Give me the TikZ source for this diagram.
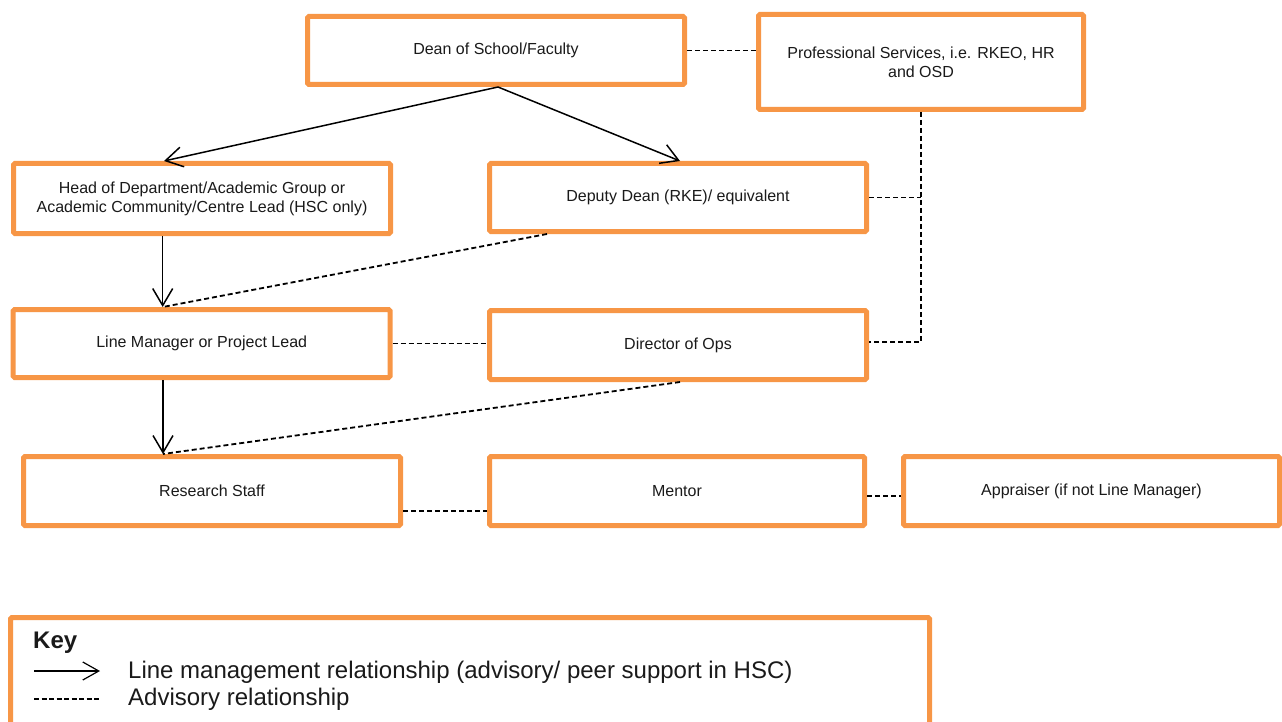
\documentclass[tikz,border=0pt]{standalone}
\usepackage{fontspec}
\setmainfont{Liberation Sans}
\usetikzlibrary{arrows.meta,calc}
\definecolor{boxorange}{HTML}{F79646}
\definecolor{txt}{HTML}{1A1A1A}
\begin{document}
\begin{tikzpicture}[x=1pt,y=-1pt,
  box/.style={draw=boxorange, line width=5pt, rounded corners=1.5pt, fill=white,
    align=center, text=txt, font=\fontsize{16}{19}\selectfont, inner sep=0pt},
  lmarrow/.style={draw=black, line width=1.5pt,
    -{Straight Barb[length=17pt,width=20pt,line width=1.5pt]}},
  adv/.style={draw=black, line width=1.8pt, dash pattern=on 5pt off 3pt},
  keytext/.style={anchor=west, text=txt, inner sep=0pt, font=\fontsize{24}{28}\selectfont},
]
\useasboundingbox (0,0) rectangle (1282,722);

% boxes
\node[box, minimum width=377pt, minimum height=68pt] (dean) at (496,50.5) {Dean of School/Faculty};
\node[box, minimum width=325pt, minimum height=95pt] (ps) at (921,62) {Professional Services, i.e. RKEO, HR\\and OSD};
\node[box, minimum width=377pt, minimum height=70pt] (head) at (202,198.5) {Head of Department/Academic Group or\\Academic Community/Centre Lead (HSC only)};
\node[box, minimum width=377pt, minimum height=68pt] (deputy) at (678,197.5) {Deputy Dean (RKE)/ equivalent};
\node[box, minimum width=377pt, minimum height=68pt] (lm) at (201.7,343.5) {Line Manager or Project Lead};
\node[box, minimum width=377pt, minimum height=69pt] (dir) at (678,345) {Director of Ops};
\node[box, minimum width=377pt, minimum height=69pt] (rs) at (212,491) {Research Staff};
\node[box, minimum width=375pt, minimum height=69pt] (mentor) at (677,491) {Mentor};
\node[box, minimum width=376pt, minimum height=69pt] (appr) at (1091.5,491) {Appraiser (if not Line Manager)};
\node[box, minimum width=919pt, minimum height=120pt] (key) at (470,677.5) {};

% helper points
\coordinate (apex) at ([xshift=2pt]dean.south);
\coordinate (headtop) at ([xshift=-38pt]head.north);
\coordinate (deptop) at ([xshift=2pt]deputy.north);
\coordinate (lmtop) at ([xshift=-39pt]lm.north);
\coordinate (rstop) at ([xshift=-49pt]rs.north);
\coordinate (depbot) at ([xshift=-131pt]deputy.south);
\coordinate (dirbot) at ([xshift=2pt]dir.south);
\coordinate (dirE) at ([yshift=3pt]dir.east);
\coordinate (rsE) at ([yshift=-20pt]rs.east);
\coordinate (mentorE) at ([yshift=-5pt]mentor.east);

% line management
\draw[lmarrow] (apex) -- (headtop);
\draw[lmarrow] (apex) -- (deptop);
\draw[lmarrow] (lmtop |- head.south) -- (lmtop);
\draw[lmarrow] (rstop |- lm.south) -- (rstop);

% advisory
\draw[adv] (dean.east) -- (dean.east -| ps.west);
\draw[adv] (ps.south) -- (ps.south |- dirE) -- (dirE);
\draw[adv] (deputy.east) -- (deputy.east -| ps.south);
\draw[adv] (depbot) -- (lmtop);
\draw[adv] (lm.east) -- (lm.east -| dir.west);
\draw[adv] (dirbot) -- (rstop);
\draw[adv] (rsE) -- (rsE -| mentor.west);
\draw[adv] (mentorE) -- (mentorE -| appr.west);

% key
\node[keytext, font=\fontsize{24}{28}\selectfont\bfseries] (keytitle) at (33,643) {Key};
\coordinate (ka1) at (34,671);
\coordinate (ka2) at (100,671);
\draw[draw=black, line width=1.2pt, -{Straight Barb[length=16pt,width=18pt,line width=1.2pt]}] (ka1) -- (ka2);
\node[keytext] (k1) at (128,672) {Line management relationship (advisory/ peer support in HSC)};
\coordinate (kd1) at (34,699);
\coordinate (kd2) at (100,699);
\draw[draw=black, line width=1.2pt, dash pattern=on 5pt off 2.5pt] (kd1) -- (kd2);
\node[keytext] (k2) at (128,699) {Advisory relationship};
\end{tikzpicture}
\end{document}
